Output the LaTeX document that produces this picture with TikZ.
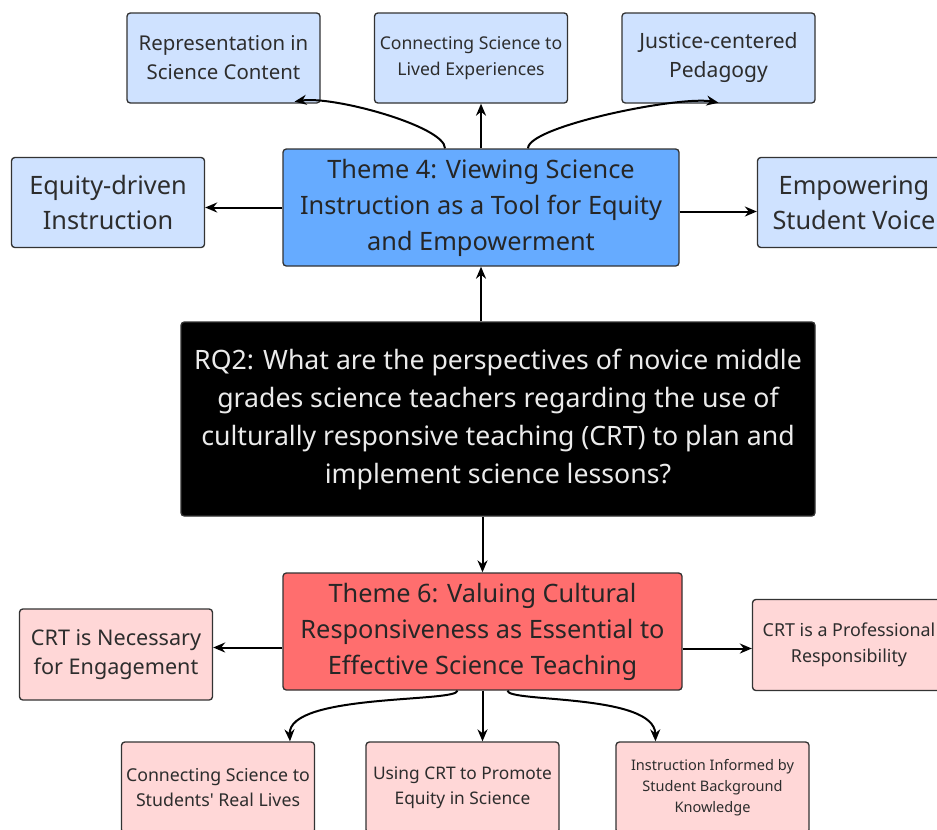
\documentclass[tikz,border=0pt]{standalone}
\usepackage{fontspec}
\setmainfont{Noto Sans}
\usetikzlibrary{arrows.meta,calc}

\definecolor{lightblue}{RGB}{207,226,255}
\definecolor{themeblue}{RGB}{102,171,255}
\definecolor{lightpink}{RGB}{255,215,215}
\definecolor{themered}{RGB}{255,110,110}
\definecolor{edge}{RGB}{51,51,51}
\definecolor{txt}{RGB}{45,45,45}

\tikzset{
  box/.style={draw=edge, line width=1pt, rounded corners=2.5pt, align=center,
    inner sep=0pt, text=txt},
  subblue/.style={box, fill=lightblue, minimum width=144.75pt, minimum height=67.5pt},
  subpink/.style={box, fill=lightpink, minimum width=144.75pt, minimum height=68.25pt},
  link/.style={line width=1.5pt, -{Stealth[length=9pt,width=7.5pt]}}
}

\begin{document}
\begin{tikzpicture}[x=0.75pt,y=-0.75pt]
  \clip (0,0) rectangle (937,829);
  \fill[white] (0,0) rectangle (937,829);

  \node[box, fill=black, text=white!92!black, minimum width=475.5pt, minimum height=145.5pt,
    font=\fontsize{20}{28.5}\selectfont] (rq) at (498,419)
    {RQ2: What are the perspectives of novice middle\\grades science teachers regarding the use of\\culturally responsive teaching (CRT) to plan and\\implement science lessons?};

  \node[box, fill=themeblue, text=black!85, minimum width=297pt, minimum height=87.75pt,
    font=\fontsize{19}{27}\selectfont] (t4) at (481,207.5)
    {Theme 4: Viewing Science\\Instruction as a Tool for Equity\\and Empowerment};
  \node[subblue, font=\fontsize{15.3}{21.75}\selectfont] (rep) at (223.5,58)
    {Representation in\\Science Content};
  \node[subblue, font=\fontsize{13.2}{19}\selectfont] (lived) at (471,58)
    {Connecting Science to\\Lived Experiences};
  \node[subblue, font=\fontsize{15.8}{21.75}\selectfont] (justice) at (718.5,58)
    {Justice-centered\\Pedagogy};
  \node[subblue, font=\fontsize{19}{26}\selectfont] (equity) at (108,202.5)
    {Equity-driven\\Instruction};
  \node[subblue, font=\fontsize{19}{26}\selectfont] (voice) at (854,202.5)
    {Empowering\\Student Voice};

  \node[box, fill=themered, text=black!85, minimum width=299.25pt, minimum height=87.75pt,
    font=\fontsize{19}{27}\selectfont] (t6) at (482.5,631.5)
    {Theme 6: Valuing Cultural\\Responsiveness as Essential to\\Effective Science Teaching};
  \node[subpink, font=\fontsize{16.2}{22}\selectfont] (nec) at (116,654.5)
    {CRT is Necessary\\for Engagement};
  \node[subpink, font=\fontsize{13.4}{19.5}\selectfont] (prof) at (849,645)
    {CRT is a Professional\\Responsibility};
  \node[subpink, font=\fontsize{13.3}{19}\selectfont] (lives) at (218,787.5)
    {Connecting Science to\\Students\textquotesingle\ Real Lives};
  \node[subpink, font=\fontsize{13}{19}\selectfont] (usecrt) at (462.5,787.5)
    {Using CRT to Promote\\Equity in Science};
  \node[subpink, font=\fontsize{10.9}{16}\selectfont] (informed) at (712.5,787.5)
    {Instruction Informed by\\Student Background\\Knowledge};

  \draw[link] (rq.north -| t4.south) -- (t4.south);
  \draw[link] (t4.west) -- (t4.west -| equity.east);
  \draw[link] ($(t4.east)+(0,4)$) -- ($(t4.east -| voice.west)+(0,4)$);
  \draw[link] (t4.north) -- (t4.north |- lived.south);
  \draw[link] ($(t4.north)+(-36,0)$) .. controls ($(t4.north)+(-36,-22)$) and ($(rep.south)+(110,-8)$) .. ($(rep.south)+(71,-2)$);
  \draw[link] ($(t4.north)+(47,0)$) .. controls ($(t4.north)+(47,-22)$) and ($(justice.south)+(-40,-8)$) .. ($(justice.south)+(0,-1)$);

  \draw[link] (rq.south -| t6.north) -- (t6.north);
  \draw[link] ($(t6.west)+(0,16)$) -- ($(t6.west -| nec.east)+(0,16)$);
  \draw[link] ($(t6.east)+(0,17)$) -- ($(t6.east -| prof.west)+(0,17)$);
  \draw[link] (t6.south) -- (usecrt.north -| t6.south);
  \draw[link] ($(t6.south)+(-25,0)$) .. controls ($(t6.south)+(-25,12)$) and ($(lives.north)+(70,-48)$) .. ($(lives.north)+(72,0)$);
  \draw[link] ($(t6.south)+(25,0)$) .. controls ($(t6.south)+(25,12)$) and ($(informed.north)+(-58,-48)$) .. ($(informed.north)+(-57,0)$);
\end{tikzpicture}
\end{document}
